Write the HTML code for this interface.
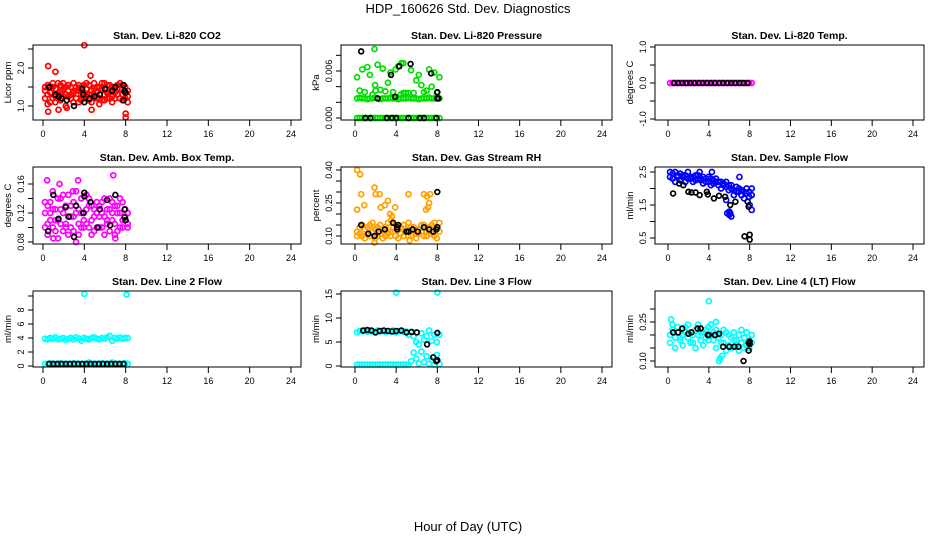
<!DOCTYPE html>
<html><head><meta charset="utf-8"><style>
body{margin:0;background:#fff;width:936px;height:540px;overflow:hidden}
svg{font-family:"Liberation Sans",sans-serif}
</style></head><body>
<svg id="c" width="936" height="540">
<text x="468" y="13" text-anchor="middle" font-size="13">HDP_160626  Std. Dev. Diagnostics</text>
<text x="468" y="531" text-anchor="middle" font-size="13">Hour of Day (UTC)</text>
</svg>
<script>
const T=[0.2,0.45,0.7,0.95,1.2,1.45,1.7,1.95,2.2,2.45,2.7,2.95,3.2,3.45,3.7,3.95,4.2,4.45,4.7,4.95,5.2,5.45,5.7,5.95,6.2,6.45,6.7,6.95,7.2,7.45,7.7,7.95,8.2];
const xTicks=[0,4,8,12,16,20,24];
// CO2
const co2A=[1.4,1.3,1.5,1.2,1.45,1.35,1.55,1.25,1.5,1.4,1.3,1.6,1.2,1.45,1.5,1.35,1.25,1.55,1.4,1.3,1.5,1.2,1.45,1.6,1.35,1.4,1.25,1.5,1.3,1.45,1.55,1.35,1.4];
const co2B=[1.2,1.55,1.1,1.5,1.25,1.6,1.15,1.45,1.3,1.55,1.2,1.35,1.5,1.1,1.3,1.55,1.45,1.15,1.3,1.6,1.2,1.5,1.15,1.3,1.55,1.2,1.5,1.35,1.55,1.2,1.3,1.5,1.25];
const co2C=[1.5,1.05,1.35,1.6,1.1,1.2,1.4,1.6,1.0,1.25,1.5,1.1,1.4,1.55,1.15,1.2,1.6,1.3,1.1,1.45,1.35,1.05,1.6,1.15,1.2,1.55,1.1,1.2,1.45,1.6,1.15,1.2,1.1];
const co2XT=[0.5,1.2,4.6,4.0,0.5,1.5,4.7,8.0,8.0,2.3];
const co2XV=[2.05,1.9,1.8,2.6,0.85,0.9,0.9,0.8,0.7,0.95];
const co2KT=[0.6,1.2,1.5,1.8,2.3,3.0,3.8,3.9,4.0,4.5,5.0,5.5,6.0,6.7,7.0,7.8,7.9,8.0,7.8];
const co2KV=[1.5,1.3,1.25,1.2,1.15,1.0,1.45,1.3,1.1,1.2,1.25,1.3,1.45,1.4,1.5,1.55,1.4,1.35,1.15];
// Pressure
const prA=[0,0,0,0,0,0,0,0,0,0,0,0,0,0,0,0,0,0,0,0,0,0,0,0,0,0,0,0,0,0,0,0,0];
const prB=[0.0025,0.0026,0.0025,0.0025,0.0024,0.0025,0.0025,0.0026,0.0025,0.0024,0.0025,0.0025,0.0025,0.0026,0.0025,0.0025,0.0024,0.0025,0.0025,0.0025,0.0026,0.0025,0.0025,0.0025,0.0024,0.0025,0.0025,0.0025,0.0026,0.0025,0.0025,0.0025,0.0025];
const prC=[0.0052,0.0035,0.0062,0.0033,0.0065,0.0055,0.003,0.0042,0.0068,0.0036,0.0063,0.0034,0.0045,0.0058,0.0033,0.0062,0.0066,0.003,0.0032,0.0032,0.0032,0.0061,0.0032,0.0048,0.0055,0.0042,0.0033,0.0035,0.0062,0.004,0.0058,0.0032,0.0052];
const prXT=[1.9,4.5,4.7,2.0];
const prXV=[0.0088,0.007,0.007,0.0035];
const prKT=[0.6,3.5,4.3,5.4,7.4,2.2,3.9,8.0,8.0,8.1,1.0,1.5,3.1,3.6,4.0,5.2,6.3,6.7,7.9];
const prKV=[0.0085,0.0055,0.0066,0.0069,0.0057,0.0025,0.0027,0.0033,0.0025,0.0025,0,0,0,0,0,0,0,0,0];
// Li-820 Temp
const tpA=[0,0,0,0,0,0,0,0,0,0,0,0,0,0,0,0,0,0,0,0,0,0,0,0,0,0,0,0,0,0,0,0,0];
const tpKT=[0.6,1.0,1.4,1.8,2.2,2.6,3.0,3.4,3.8,4.2,4.6,5.0,5.4,5.8,6.2,6.6,7.0,7.4,7.8];
const tpKV=[0,0,0,0,0,0,0,0,0,0,0,0,0,0,0,0,0,0,0];
// Amb box temp
const abA=[0.12,0.105,0.135,0.1,0.125,0.11,0.14,0.095,0.13,0.115,0.1,0.135,0.12,0.105,0.14,0.11,0.125,0.1,0.13,0.115,0.135,0.1,0.12,0.14,0.105,0.125,0.11,0.13,0.095,0.12,0.135,0.11,0.12];
const abB=[0.1,0.13,0.11,0.125,0.095,0.14,0.105,0.12,0.1,0.145,0.115,0.095,0.13,0.125,0.1,0.12,0.105,0.14,0.11,0.095,0.12,0.13,0.1,0.115,0.125,0.095,0.135,0.105,0.12,0.1,0.11,0.125,0.1];
const abC=[0.135,0.09,0.12,0.15,0.11,0.085,0.125,0.145,0.105,0.09,0.13,0.115,0.15,0.09,0.12,0.1,0.145,0.13,0.09,0.125,0.1,0.115,0.135,0.09,0.11,0.14,0.12,0.09,0.13,0.14,0.1,0.115,0.105];
const abXT=[0.4,1.6,3.4,2.9,6.8,7.0,3.2,1.0];
const abXV=[0.165,0.16,0.165,0.15,0.172,0.085,0.08,0.085];
const abKT=[0.5,1.0,1.5,2.2,2.5,3.0,3.2,3.9,4.0,4.0,4.6,5.3,5.5,6.2,6.5,7.0,7.9,8.0,7.9];
const abKV=[0.095,0.145,0.112,0.128,0.115,0.087,0.13,0.12,0.148,0.143,0.135,0.1,0.125,0.138,0.103,0.145,0.125,0.11,0.114];
// RH
const rhA=[0.12,0.14,0.1,0.13,0.11,0.15,0.12,0.09,0.14,0.11,0.13,0.1,0.16,0.12,0.14,0.1,0.13,0.11,0.15,0.12,0.1,0.14,0.12,0.11,0.13,0.15,0.1,0.12,0.14,0.11,0.16,0.13,0.12];
const rhB=[0.1,0.11,0.15,0.09,0.14,0.1,0.16,0.13,0.1,0.15,0.09,0.14,0.11,0.1,0.12,0.15,0.09,0.14,0.1,0.13,0.16,0.1,0.14,0.09,0.11,0.12,0.15,0.1,0.12,0.15,0.1,0.09,0.16];
const rhXT=[0.2,0.5,0.2,0.6,0.9,1.9,2.0,2.4,2.5,2.9,3.2,3.4,3.5,3.6,3.9,5.2,6.7,7.0,7.2,6.9,7.1,7.3,5.3,1.9];
const rhXV=[0.4,0.38,0.22,0.29,0.24,0.32,0.29,0.29,0.23,0.24,0.26,0.2,0.17,0.19,0.23,0.29,0.29,0.28,0.25,0.22,0.23,0.29,0.08,0.07];
const rhKT=[0.6,1.3,1.9,2.3,2.9,3.7,4.1,4.1,4.2,5.0,5.2,5.6,6.1,6.7,7.2,7.6,7.9,8.0,8.0];
const rhKV=[0.15,0.11,0.1,0.12,0.13,0.16,0.14,0.13,0.15,0.12,0.12,0.13,0.12,0.14,0.13,0.12,0.13,0.14,0.3];
// Sample flow
const sfA=[2.5,2.45,2.5,2.4,2.45,2.35,2.4,2.5,2.3,2.35,2.4,2.3,2.25,2.35,2.3,2.2,2.3,2.25,2.2,2.1,2.2,2.15,2.05,2.1,2.0,1.95,2.05,1.9,1.95,1.9,1.85,1.9,1.8];
const sfB=[2.35,2.3,2.2,2.35,2.25,2.4,2.2,2.3,2.35,2.2,2.25,2.4,2.3,2.15,2.2,2.35,2.1,2.15,2.3,2.2,2.0,2.1,2.2,1.95,2.1,1.8,1.9,2.0,1.8,1.7,2.0,1.75,2.0];
const sfXT=[5.8,6.0,6.1,6.2,6.0,5.7,7.0,8.2,8.0,3.1,4.3];
const sfXV=[1.25,1.2,1.25,1.15,1.3,1.65,2.35,1.35,1.5,2.5,2.5];
const sfKT=[0.5,1.1,1.5,2.0,2.3,2.7,3.1,3.8,3.9,4.5,5.0,5.6,6.1,6.6,7.5,7.8,7.9,8.0,8.0];
const sfKV=[1.85,2.15,2.1,1.9,1.88,1.88,1.8,1.9,1.82,1.7,1.78,1.75,1.5,1.6,0.55,1.6,1.45,0.6,0.45];
// Line 2
const l2A=[3.9,3.8,4.0,3.9,4.1,3.8,3.9,4.0,3.7,3.9,4.0,3.8,4.1,3.9,3.6,4.0,3.9,3.8,4.0,4.1,3.9,3.8,4.0,3.9,4.1,4.3,3.6,4.0,3.9,4.1,3.9,4.0,4.0];
const l2B=[0.3,0.3,0.4,0.3,0.3,0.3,0.4,0.3,0.3,0.3,0.3,0.4,0.3,0.3,0.3,0.3,0.3,0.5,0.3,0.3,0.3,0.3,0.4,0.3,0.3,0.3,0.5,0.3,0.3,0.3,0.3,0.4,0.3];
const l2XT=[4.0,8.1];
const l2XV=[10.3,10.2];
const l2KT=[0.6,1.0,1.4,1.8,2.2,2.6,3.0,3.4,3.8,4.2,4.6,5.0,5.4,5.8,6.2,6.6,7.0,7.4,7.8];
const l2KV=[0.3,0.3,0.3,0.3,0.3,0.3,0.3,0.3,0.3,0.3,0.3,0.3,0.3,0.3,0.3,0.3,0.3,0.3,0.3];
// Line 3
const l3A=[7.0,7.3,7.2,7.4,7.1,7.3,7.2,7.0,7.4,7.2,7.3,7.1,7.3,7.2,7.4,7.0,7.2,7.3,7.1,7.2,6.5,7.0,6.2,5.0,4.5,6.8,5.5,6.2,7.4,5.2,6.5,5.0,6.5];
const l3B=[0.3,0.3,0.3,0.3,0.3,0.3,0.3,0.3,0.3,0.3,0.3,0.3,0.3,0.3,0.3,0.3,0.3,0.3,0.3,0.3,0.3,1.0,2.8,1.5,0.5,3.0,0.8,2.0,0.5,1.2,0.3,2.3,0.4];
const l3XT=[4.0,8.0];
const l3XV=[15.3,15.3];
const l3KT=[0.8,1.2,1.6,2.0,2.4,2.8,3.2,3.6,4.0,4.5,5.0,5.5,6.0,7.0,7.6,7.9,8.0,8.0];
const l3KV=[7.4,7.5,7.4,7.0,7.3,7.4,7.3,7.2,7.3,7.4,7.0,7.1,7.0,4.5,1.8,1.0,1.2,6.9];
// Line 4
const l4A=[0.2,0.22,0.19,0.21,0.18,0.2,0.23,0.19,0.21,0.17,0.22,0.2,0.18,0.21,0.19,0.23,0.2,0.18,0.22,0.19,0.2,0.17,0.21,0.16,0.19,0.18,0.16,0.2,0.17,0.19,0.16,0.18,0.17];
const l4B=[0.17,0.24,0.15,0.23,0.19,0.16,0.21,0.24,0.17,0.2,0.15,0.24,0.21,0.16,0.22,0.18,0.24,0.21,0.15,0.2,0.17,0.22,0.14,0.2,0.15,0.21,0.18,0.14,0.22,0.15,0.21,0.15,0.2];
const l4XT=[4.0,5.0,5.1,5.3,0.3,4.7];
const l4XV=[0.33,0.1,0.11,0.12,0.26,0.25];
const l4KT=[0.5,1.0,1.4,2.0,2.3,2.9,3.2,3.9,4.0,4.6,5.0,5.4,6.0,6.5,6.9,7.4,7.9,8.0,8.0,7.9];
const l4KV=[0.21,0.21,0.225,0.205,0.21,0.225,0.225,0.2,0.2,0.2,0.205,0.155,0.155,0.155,0.155,0.1,0.14,0.175,0.165,0.17];

const NS="http://www.w3.org/2000/svg";
const svg=document.getElementById('c');
function mk(tag,at,parent){const e=document.createElementNS(NS,tag);for(const k in at)e.setAttribute(k,at[k]);(parent||svg).appendChild(e);return e;}
const cols=[{l:33,r:301,x0:43,x1:291},{l:341,r:612,x0:355,x1:602},{l:655,r:924,x0:668,x1:913}];
const rows=[{t:45,b:120},{t:167,b:244},{t:291,b:367}];
const panels=[
 {name:'co2',title:'Stan. Dev. Li-820 CO2',yl:'Licor ppm',c:0,r:0,col:'#ff0000',ya:[1.0,2.0],yp:[106,68],ticks:[1.0,1.5,2.0,2.5],labs:['1.0','2.0'],series:[co2A,co2B,co2C],xt:co2XT,xv:co2XV,kt:co2KT,kv:co2KV},
 {name:'pressure',title:'Stan. Dev. Li-820 Pressure',yl:'kPa',c:1,r:0,col:'#00dd00',ya:[0,0.006],yp:[118,71],ticks:[0,0.002,0.004,0.006,0.008],labs:['0.000','0.006'],series:[prA,prB,prC],xt:prXT,xv:prXV,kt:prKT,kv:prKV},
 {name:'li820-temp',title:'Stan. Dev. Li-820 Temp.',yl:'degrees C',c:2,r:0,col:'#ff00ff',ya:[-1,1],yp:[119,47],ticks:[-1,-0.5,0,0.5,1],labs:['-1.0','0.0','1.0'],series:[tpA],xt:[],xv:[],kt:tpKT,kv:tpKV},
 {name:'amb-box-temp',title:'Stan. Dev. Amb. Box Temp.',yl:'degrees C',c:0,r:1,col:'#ff00ff',ya:[0.08,0.16],yp:[242,184],ticks:[0.08,0.10,0.12,0.14,0.16],labs:['0.08','0.12','0.16'],series:[abA,abB,abC],xt:abXT,xv:abXV,kt:abKT,kv:abKV},
 {name:'gas-stream-rh',title:'Stan. Dev. Gas Stream RH',yl:'percent',c:1,r:1,col:'#ffa000',ya:[0.10,0.40],yp:[236,170],ticks:[0.10,0.15,0.20,0.25,0.30,0.35,0.40],labs:['0.10','0.25','0.40'],series:[rhA,rhB],xt:rhXT,xv:rhXV,kt:rhKT,kv:rhKV},
 {name:'sample-flow',title:'Stan. Dev. Sample Flow',yl:'ml/min',c:2,r:1,col:'#0000ff',ya:[0.5,2.5],yp:[238,172],ticks:[0.5,1.0,1.5,2.0,2.5],labs:['0.5','1.5','2.5'],series:[sfA,sfB],xt:sfXT,xv:sfXV,kt:sfKT,kv:sfKV},
 {name:'line2-flow',title:'Stan. Dev. Line 2 Flow',yl:'ml/min',c:0,r:2,col:'#00ffff',ya:[0,8],yp:[366,310],ticks:[0,2,4,6,8,10],labs:['0','2','4','6','8'],series:[l2A,l2B],xt:l2XT,xv:l2XV,kt:l2KT,kv:l2KV},
 {name:'line3-flow',title:'Stan. Dev. Line 3 Flow',yl:'ml/min',c:1,r:2,col:'#00ffff',ya:[0,15],yp:[366,294],ticks:[0,5,10,15],labs:['0','5','10','15'],series:[l3A,l3B],xt:l3XT,xv:l3XV,kt:l3KT,kv:l3KV},
 {name:'line4-flow',title:'Stan. Dev. Line 4 (LT) Flow',yl:'ml/min',c:2,r:2,col:'#00ffff',ya:[0.10,0.25],yp:[361,322],ticks:[0.10,0.15,0.20,0.25,0.30],labs:['0.10','0.25'],series:[l4A,l4B],xt:l4XT,xv:l4XV,kt:l4KT,kv:l4KV}
];
panels.forEach(p=>{
 const C=cols[p.c],R=rows[p.r];
 const g=mk('g',{});
 
 
 const xs=v=>C.x0+(C.x1-C.x0)*v/24;
 const ys=v=>p.yp[0]+(p.yp[1]-p.yp[0])*(v-p.ya[0])/(p.ya[1]-p.ya[0]);
 const tt=mk('text',{x:(C.l+C.r)/2,y:R.t-6,'text-anchor':'middle','font-size':10.5,'font-weight':'bold'},g);tt.textContent=p.title;
 
 
 const pg=mk('g',{fill:'none','stroke-width':1.7},g);
 
 
 p.series.forEach(s=>s.forEach((v,i)=>{const e=mk('circle',{cx:xs(T[i]),cy:ys(v),r:2.5,stroke:p.col},pg);
  
  }));
 p.xt.forEach((t,i)=>{const e=mk('circle',{cx:xs(t),cy:ys(p.xv[i]),r:2.5,stroke:p.col},pg);
  
  });
 p.kt.forEach((t,i)=>{const e=mk('circle',{cx:xs(t),cy:ys(p.kv[i]),r:2.4,stroke:'#000'},pg);
  
  });
 const box=mk('rect',{x:C.l,y:R.t,width:C.r-C.l,height:R.b-R.t,fill:'none',stroke:'#000','stroke-width':1},g);
 
 
 const xa=mk('g',{},g);
 
 
 xTicks.forEach(t=>{mk('line',{x1:xs(t),x2:xs(t),y1:R.b,y2:R.b+6,stroke:'#000'},xa);
  const l=mk('text',{x:xs(t),y:R.b+17,'text-anchor':'middle','font-size':9},xa);l.textContent=t;
  
  });
 const ya=mk('g',{},g);
 
 
 p.ticks.forEach(t=>{mk('line',{x1:C.l-5,x2:C.l,y1:ys(t),y2:ys(t),stroke:'#000'},ya);});
 p.labs.forEach(s=>{const v=parseFloat(s);const y=ys(v);
  const l=mk('text',{x:C.l-9,y:y,'text-anchor':'middle','font-size':9,transform:`rotate(-90 ${C.l-9} ${y})`},ya);l.textContent=s;
  
  });
 const yl=mk('text',{x:C.l-22,y:(R.t+R.b)/2,'text-anchor':'middle','font-size':9.5,transform:`rotate(-90 ${C.l-22} ${(R.t+R.b)/2})`},ya);yl.textContent=p.yl;
 
 
});
</script>
</body></html>
